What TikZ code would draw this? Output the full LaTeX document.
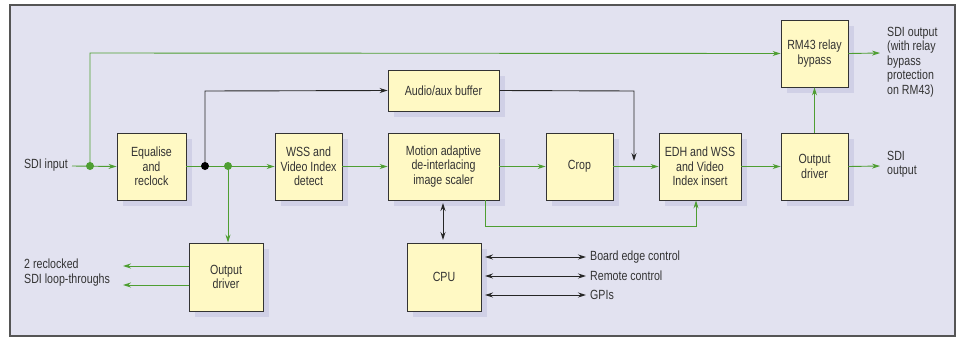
\documentclass[tikz,border=0pt]{standalone}
\usepackage{fontspec}
\setmainfont[FakeStretch=0.80]{Liberation Sans}
\usetikzlibrary{arrows.meta,shadows}
\definecolor{bgcol}{HTML}{E2E2F0}
\definecolor{boxcol}{HTML}{FFF9C4}
\definecolor{shcol}{HTML}{D0D0E6}
\definecolor{grn}{HTML}{4E9E32}
\definecolor{txt}{HTML}{333333}
\definecolor{frm}{HTML}{555555}
\tikzset{
  box/.style={draw=txt, line width=0.9pt, fill=boxcol, align=center, text=txt,
    font=\fontsize{13.3}{14.5}\selectfont, inner sep=1pt,
    drop shadow={shadow xshift=6pt, shadow yshift=-6pt, fill=shcol, opacity=1}},
  lbl/.style={text=txt, font=\fontsize{13.3}{14.5}\selectfont, align=left, inner sep=0pt},
  gline/.style={draw=grn, line width=0.9pt, -{Stealth[length=8pt,width=5pt]}},
  bline/.style={draw=black!85, line width=0.9pt, -{Stealth[length=8pt,width=5pt]}},
  bboth/.style={draw=black!85, line width=0.9pt, {Stealth[length=8pt,width=5pt]}-{Stealth[length=8pt,width=5pt]}},
  gdot/.style={circle, fill=grn, inner sep=0pt, minimum size=8pt},
  bdot/.style={circle, fill=black, inner sep=0pt, minimum size=8pt}
}
\begin{document}
\begin{tikzpicture}[x=1pt,y=-1pt]
\useasboundingbox (0,0) rectangle (959,338);
\draw[fill=bgcol, draw=frm, line width=1.3pt] (10,5) rectangle (955,336);

% boxes
\node[box, minimum width=69pt, minimum height=67pt] (eq) at (151.5,166.5) {Equalise\\and\\reclock};
\node[box, minimum width=67pt, minimum height=67pt] (wss) at (308.5,166.5) {WSS and\\Video Index\\detect};
\node[box, minimum width=111pt, minimum height=67pt] (mot) at (443.5,166.5) {Motion adaptive\\de-interlacing\\image scaler};
\node[box, minimum width=111pt, minimum height=41pt] (aud) at (443.5,90.5) {Audio/aux buffer};
\node[box, minimum width=67pt, minimum height=67pt] (crop) at (579.5,166.5) {Crop};
\node[box, minimum width=82pt, minimum height=67pt] (edh) at (700,166.5) {EDH and WSS\\and Video\\Index insert};
\node[box, minimum width=67pt, minimum height=67pt] (od) at (814.5,166.5) {Output\\driver};
\node[box, minimum width=67pt, minimum height=67pt] (rm) at (814.5,53.5) {RM43 relay\\bypass};
\node[box, minimum width=74pt, minimum height=68pt] (od2) at (226,277) {Output\\driver};
\node[box, minimum width=74pt, minimum height=68pt] (cpu) at (444,277) {CPU};

% labels
\node[lbl, anchor=east] (sdiin) at (68,165) {SDI input};
\node[lbl, anchor=north west] (sdiout1) at (887,27) {SDI output\\(with relay\\bypass\\protection\\on RM43)};
\node[lbl, anchor=north west] (sdiout2) at (887,151) {SDI\\output};
\node[lbl, anchor=north west] (loop) at (24,259) {2 reclocked\\SDI loop-throughs};
\node[lbl, anchor=west] (bec) at (590,257) {Board edge control};
\node[lbl, anchor=west] (rc) at (590,276) {Remote control};
\node[lbl, anchor=west] (gpi) at (590,295) {GPIs};

% junctions
\coordinate (j1) at (90,166);
\coordinate (j2) at (205,166);
\coordinate (j3) at (228,166);

% green main path
\draw[gline] (sdiin.east |- j1) ++(4,0) -- (eq.west);
\draw[gline] (j1) -- (90,53) -- (rm.west);
\draw[gline] (eq.east) -- (wss.west);
\draw[gline] (j3) -- (od2.north -| j3);
\draw[gline] (wss.east) -- (mot.west);
\draw[gline] (mot.east) -- (crop.west);
\draw[gline] (crop.east) -- (edh.west);
\draw[gline] (edh.east) -- (od.west);
\draw[gline] (od.east) -- (880,166);
\draw[gline] (rm.east) -- (880,53);
\draw[gline] (od.north) -- (rm.south);
\draw[gline] (485,200) -- (485,226) -- (696,226) -- (edh.south -| 696,0);
\draw[gline] (od2.west |- 0,266) -- (123,266);
\draw[gline] (od2.west |- 0,285) -- (123,285);

% black paths
\draw[bline] (j2) -- (205,91) -- (aud.west);
\draw[bline] (aud.east) -- (634,91) -- (634,161);
\draw[bboth] (443,203) -- (443,240);
\draw[bboth] (485,257) -- (586,257);
\draw[bboth] (485,276) -- (586,276);
\draw[bboth] (485,295) -- (586,295);

% dots
\node[gdot] at (j1) {};
\node[bdot] at (j2) {};
\node[gdot] at (j3) {};
\end{tikzpicture}
\end{document}
